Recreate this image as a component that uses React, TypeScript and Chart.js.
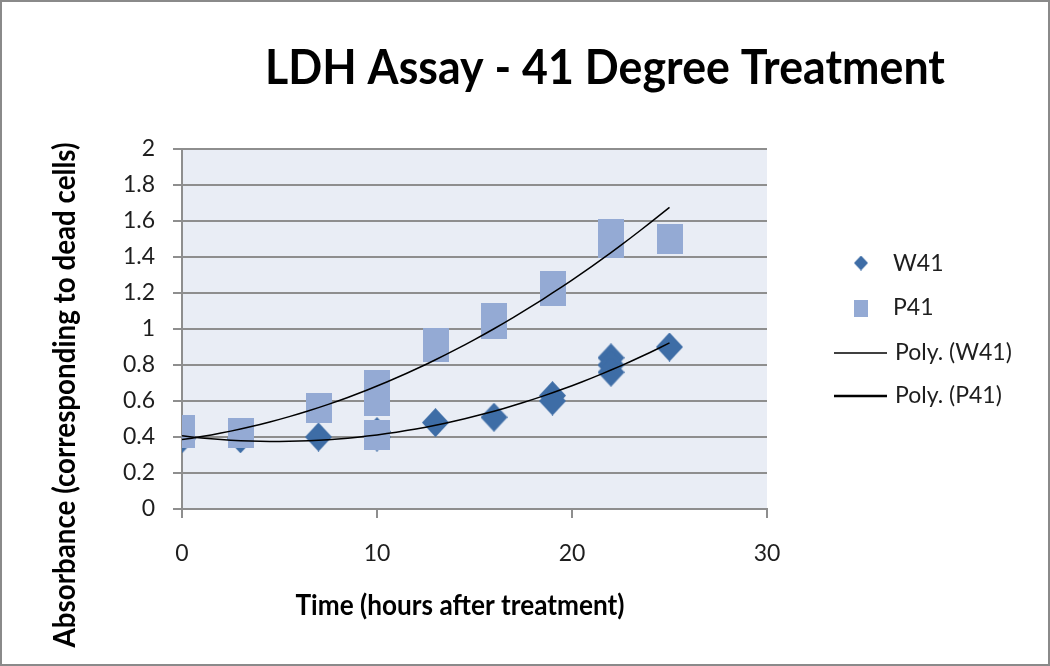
import React, { useEffect, useRef } from "react";
import { Chart, registerables } from "chart.js";

Chart.register(...registerables);

// ---- Data ----
const timeW41 = [0, 3, 7, 10, 10, 13, 16, 19, 19, 22, 22, 22, 25];
const absW41 = [0.39, 0.39, 0.4, 0.43, 0.4, 0.48, 0.51, 0.63, 0.6, 0.84, 0.8, 0.76, 0.9];

const timeP41 = [0, 0, 3, 7, 10, 10, 10, 13, 13, 16, 16, 19, 19, 22, 22, 25];
const absP41 = [0.44, 0.42, 0.425, 0.56, 0.69, 0.6, 0.41, 0.92, 0.9, 1.06, 1.03, 1.24, 1.21, 1.53, 1.48, 1.5];

const xTicks = [0, 10, 20, 30];
const yTicks = [0, 0.2, 0.4, 0.6, 0.8, 1, 1.2, 1.4, 1.6, 1.8, 2];
const yTickLabels = ["0", "0.2", "0.4", "0.6", "0.8", "1", "1.2", "1.4", "1.6", "1.8", "2"];

const seriesLabels = ["W41", "P41", "Poly. (W41)", "Poly. (P41)"];
const chartTitle = "LDH Assay - 41 Degree Treatment";
const xTitle = "Time (hours after treatment)";
const yTitle = "Absorbance (corresponding to dead cells)";

// ---- Styles ----
const FONT = 'Lato, "Open Sans", "Noto Sans", sans-serif';
const W_COLOR = "#3E6DA6";
const P_COLOR = "#94AAD4";
const PLOT_BG = "#E9EDF5";
const GRID = "#8E8E8E";
const TEXT = "#1E1E1E";

// Quadratic least-squares fit (Excel "Poly." order-2 trendline)
function quadFit(xs: number[], ys: number[]): number[] {
  const S = [0, 0, 0, 0, 0];
  const T = [0, 0, 0];
  for (let i = 0; i < xs.length; i++) {
    let p = 1;
    for (let k = 0; k < 5; k++) {
      S[k] += p;
      if (k < 3) T[k] += p * ys[i];
      p *= xs[i];
    }
  }
  const A = [
    [S[0], S[1], S[2], T[0]],
    [S[1], S[2], S[3], T[1]],
    [S[2], S[3], S[4], T[2]],
  ];
  for (let c = 0; c < 3; c++) {
    let piv = c;
    for (let r = c + 1; r < 3; r++) if (Math.abs(A[r][c]) > Math.abs(A[piv][c])) piv = r;
    [A[c], A[piv]] = [A[piv], A[c]];
    for (let r = 0; r < 3; r++) {
      if (r === c) continue;
      const f = A[r][c] / A[c][c];
      for (let k = c; k < 4; k++) A[r][k] -= f * A[c][k];
    }
  }
  return [A[0][3] / A[0][0], A[1][3] / A[1][1], A[2][3] / A[2][2]];
}

function trend(xs: number[], ys: number[]) {
  const [a, b, c] = quadFit(xs, ys);
  const lo = Math.min(...xs);
  const hi = Math.max(...xs);
  const pts: { x: number; y: number }[] = [];
  for (let t = lo; t <= hi + 1e-9; t += 0.5) pts.push({ x: t, y: a + b * t + c * t * t });
  return pts;
}

function makeDiamond(w: number, h: number, color: string) {
  const c = document.createElement("canvas");
  c.width = w;
  c.height = h;
  const g = c.getContext("2d")!;
  g.fillStyle = color;
  g.beginPath();
  g.moveTo(w / 2, 0);
  g.lineTo(w, h / 2);
  g.lineTo(w / 2, h);
  g.lineTo(0, h / 2);
  g.closePath();
  g.fill();
  return c;
}

function makeRect(w: number, h: number, color: string) {
  const c = document.createElement("canvas");
  c.width = w;
  c.height = h;
  const g = c.getContext("2d")!;
  g.fillStyle = color;
  g.fillRect(0, 0, w, h);
  return c;
}

function fittedText(
  ctx: CanvasRenderingContext2D,
  text: string,
  cx: number,
  by: number,
  font: string,
  targetW: number,
  rot: number
) {
  ctx.save();
  ctx.font = font;
  const w = ctx.measureText(text).width;
  ctx.translate(cx, by);
  ctx.rotate(rot);
  ctx.scale(targetW / w, 1);
  ctx.fillStyle = "#000";
  ctx.textAlign = "center";
  ctx.textBaseline = "alphabetic";
  ctx.fillText(text, 0, 0);
  ctx.restore();
}

const decor = {
  id: "decor",
  beforeDraw(chart: any) {
    const { ctx, chartArea: a, width, height } = chart;
    ctx.save();
    ctx.fillStyle = "#fff";
    ctx.fillRect(0, 0, width, height);
    ctx.fillStyle = PLOT_BG;
    ctx.fillRect(a.left, a.top, a.right - a.left, a.bottom - a.top);
    ctx.restore();
  },
  afterDraw(chart: any) {
    const { ctx, width, height } = chart;
    // titles
    fittedText(ctx, chartTitle, 605, 84, `bold 48px ${FONT}`, 680, 0);
    fittedText(ctx, xTitle, 460, 615, `bold 28px ${FONT}`, 329, 0);
    fittedText(ctx, yTitle, 75, 395, `bold 30px ${FONT}`, 505, -Math.PI / 2);

    // legend
    ctx.save();
    const ld = makeDiamond(14, 15, W_COLOR);
    ctx.drawImage(ld, 861 - 7, 263 - 7.5);
    const ls = makeRect(14, 17, P_COLOR);
    ctx.drawImage(ls, 861 - 7, 308 - 8.5);
    ctx.strokeStyle = "#000";
    ctx.lineWidth = 1.5;
    ctx.beginPath();
    ctx.moveTo(834, 353);
    ctx.lineTo(887, 353);
    ctx.stroke();
    ctx.lineWidth = 2.5;
    ctx.beginPath();
    ctx.moveTo(834, 396);
    ctx.lineTo(887, 396);
    ctx.stroke();
    ctx.fillStyle = TEXT;
    ctx.font = `23px ${FONT}`;
    ctx.textBaseline = "middle";
    ctx.textAlign = "left";
    ctx.fillText(seriesLabels[0], 893, 264);
    ctx.fillText(seriesLabels[1], 893, 308);
    ctx.fillText(seriesLabels[2], 895, 353);
    ctx.fillText(seriesLabels[3], 895, 396);

    // outer frame
    ctx.strokeStyle = "#8A8A8A";
    ctx.lineWidth = 2;
    ctx.strokeRect(1, 1, width - 2, height - 2);
    ctx.restore();
  },
};

export default function App() {
  const ref = useRef<HTMLCanvasElement | null>(null);

  useEffect(() => {
    document.body.style.margin = "0";
    const canvas = ref.current;
    if (!canvas) return;

    const diamond = makeDiamond(27, 29, W_COLOR);
    const square = makeRect(26, 30, P_COLOR);

    const chart = new Chart(canvas, {
      type: "scatter",
      data: {
        datasets: [
          {
            label: seriesLabels[0],
            data: timeW41.map((x, i) => ({ x, y: absW41[i] })),
            pointStyle: diamond as any,
            pointRadius: 14,
            backgroundColor: W_COLOR,
            borderColor: W_COLOR,
            showLine: false,
            order: 4,
          },
          {
            label: seriesLabels[1],
            data: timeP41.map((x, i) => ({ x, y: absP41[i] })),
            pointStyle: square as any,
            pointRadius: 14,
            backgroundColor: P_COLOR,
            borderColor: P_COLOR,
            showLine: false,
            order: 3,
          },
          {
            label: seriesLabels[2],
            data: trend(timeW41, absW41),
            showLine: true,
            borderColor: "#000",
            borderWidth: 1.5,
            pointRadius: 0,
            fill: false,
            order: 2,
          },
          {
            label: seriesLabels[3],
            data: trend(timeP41, absP41),
            showLine: true,
            borderColor: "#000",
            borderWidth: 1.5,
            pointRadius: 0,
            fill: false,
            order: 1,
          },
        ],
      },
      options: {
        responsive: false,
        animation: false,
        devicePixelRatio: 1,
        layout: { padding: { top: 149, right: 283, left: 0, bottom: 0 } },
        plugins: {
          legend: { display: false },
          tooltip: { enabled: false },
          title: { display: false },
        },
        scales: {
          x: {
            type: "linear",
            min: 0,
            max: 30,
            afterBuildTicks: (s: any) => {
              s.ticks = xTicks.map((v) => ({ value: v }));
            },
            afterFit: (s: any) => {
              s.height = 157;
            },
            ticks: {
              font: { family: FONT, size: 23 },
              color: TEXT,
              padding: 22,
              maxRotation: 0,
            },
            grid: {
              drawOnChartArea: false,
              drawTicks: true,
              tickLength: 9,
              color: GRID,
              lineWidth: 2,
            },
            border: { display: true, color: GRID, width: 2 },
          },
          y: {
            type: "linear",
            min: 0,
            max: 2,
            afterBuildTicks: (s: any) => {
              s.ticks = yTicks.map((v) => ({ value: v }));
            },
            afterFit: (s: any) => {
              s.width = 182;
            },
            ticks: {
              font: { family: FONT, size: 23 },
              color: TEXT,
              padding: 18,
              callback: (_v: any, i: number) => yTickLabels[i],
            },
            grid: {
              drawTicks: true,
              tickLength: 9,
              color: GRID,
              lineWidth: 2,
            },
            border: { display: true, color: GRID, width: 2 },
          },
        },
      },
      plugins: [decor],
    });

    return () => chart.destroy();
  }, []);

  return (
    <div style={{ width: 1050, height: 666, position: "relative" }}>
      <canvas ref={ref} width={1050} height={666} style={{ width: 1050, height: 666, display: "block" }} />
    </div>
  );
}
